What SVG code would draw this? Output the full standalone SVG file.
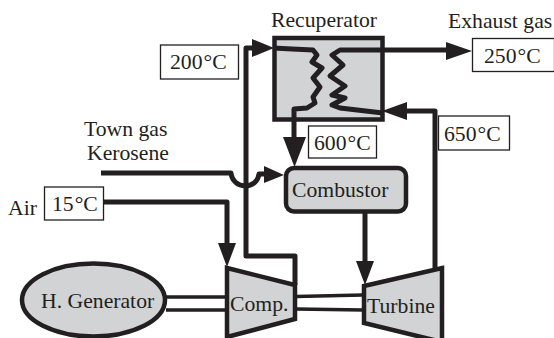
<svg xmlns="http://www.w3.org/2000/svg" width="554" height="338" viewBox="0 0 554 338">
<style>
text{font-family:"Liberation Serif","Times New Roman",serif;font-size:21.700px;fill:#231f20}
.box{fill:#fff;stroke:#231f20;stroke-width:1.3}
.eq{fill:#d1d3d4;stroke:#231f20;stroke-width:4.500;stroke-linejoin:miter}
.pipe{fill:none;stroke:#231f20;stroke-width:5;stroke-linejoin:round}
.thin{fill:none;stroke:#231f20;stroke-width:3.500}
.ah{fill:#231f20;stroke:none}
</style>
<g id="recuperator"><rect class="eq" x="274.500" y="38" width="108" height="81.500"/><text x="271" y="27">Recuperator</text></g>
<g id="combustor"><rect class="eq" x="286" y="168" width="120" height="43.500" rx="8"/><text x="292" y="197">Combustor</text></g>
<g id="generator"><ellipse class="eq" cx="93.500" cy="300" rx="71.500" ry="36.500"/><text x="41" y="308">H. Generator</text></g>
<g id="compressor"><path class="eq" d="M227 268L295 285V319L227 337Z"/><text x="230" y="311">Comp.</text></g>
<g id="turbine"><path class="eq" d="M364 286L442 268V342L364 323Z"/><text x="367" y="313">Turbine</text></g>
<g id="label-town-gas"><text x="84" y="136">Town gas</text><text x="87" y="160">Kerosene</text></g>
<g id="label-air"><text x="8" y="215">Air</text></g>
<g id="label-exhaust"><text x="448" y="28">Exhaust gas</text></g>
<g id="temp-200"><rect class="box" x="160.500" y="45" width="78" height="34"/><text x="170" y="69">200<tspan dx="1">°C</tspan></text></g>
<g id="temp-600"><rect class="box" x="308.500" y="126" width="68" height="32"/><text x="314" y="150">600<tspan dx="1">°C</tspan></text></g>
<g id="temp-250"><rect class="box" x="472.500" y="38.500" width="82" height="33"/><text x="484" y="63">250<tspan dx="1">°C</tspan></text></g>
<g id="temp-650"><rect class="box" x="438.500" y="116" width="71" height="34"/><text x="444" y="141">650<tspan dx="1">°C</tspan></text></g>
<g id="temp-15"><rect class="box" x="44.500" y="187" width="59" height="33"/><text x="52" y="211">15<tspan dx="1">°C</tspan></text></g>
<g id="connectors">
<path class="pipe" d="M295 285V256H246V48H254"/><path class="ah" d="M252 39L274 48L252 57Z"/>
<path class="pipe" d="M273 48L292 49L313 50L317 55L312 62L322 68L313 78L320 87L313 97L315 103L307 108L294 109V140"/><path class="ah" d="M283 137H306L294.500 167Z"/>
<path class="pipe" d="M383 50H340L332 55L343 65L330 76L345 86L332 95L345 98L332 105L340 108L383 113"/>
<path class="pipe" d="M383 50H448"/><path class="ah" d="M446 42L472 51L446 60Z"/>
<path class="pipe" d="M435 269V111H405"/><path class="ah" d="M407 102V120L382 111Z"/>
<path class="pipe" d="M101 173H231C233 190 257 190 259 174H266"/><path class="ah" d="M264 166L284 175L264 183Z"/>
<path class="pipe" d="M103 202H227V245"/><path class="ah" d="M218 243H236L227 267Z"/>
<path class="pipe" d="M365 212V263"/><path class="ah" d="M356 261H374L365 285Z"/>
<path class="thin" d="M166 297H226M166 310H226M296 296.500L363 295M296 309L363 310"/>
</g>
</svg>
